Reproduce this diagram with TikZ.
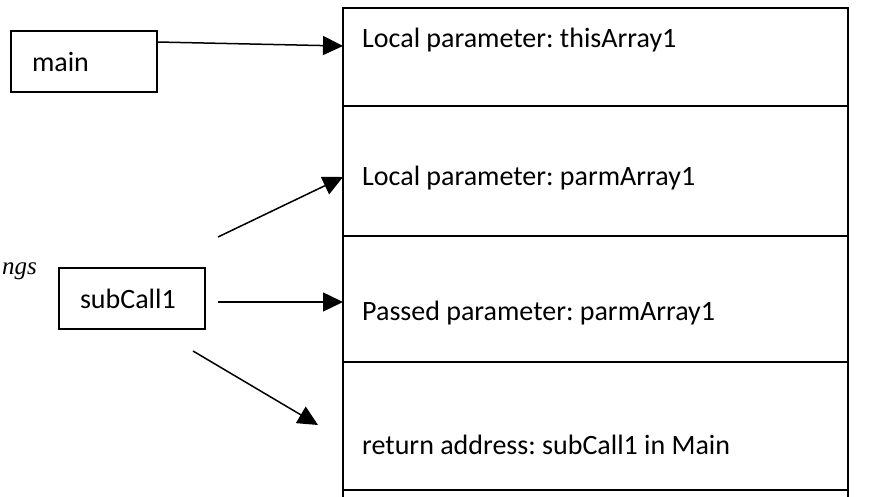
\documentclass[tikz,border=0pt]{standalone}
\usepackage{fontspec}
\setmainfont{Carlito}
\newfontfamily\serifit{Liberation Serif}
\usetikzlibrary{arrows.meta, positioning}
\frenchspacing

\begin{document}
\begin{tikzpicture}[
    x=1pt, y=-1pt,
    font=\fontsize{28}{32}\selectfont,
    callbox/.style={draw, line width=1.6pt, align=left, text width=104pt, inner xsep=21pt, inner ysep=0pt, minimum height=61pt},
    slot/.style={anchor=west, inner sep=0pt},
    arr/.style={-{Triangle[length=20pt, width=19pt]}, line width=1.5pt}
  ]
    \useasboundingbox (0,0) rectangle (879,497);
    % stack frame
    \draw[line width=1.9pt] (343,497) -- (343,8) -- (848,8) -- (848,497);
    \foreach \y in {106,236,362,490}
      \draw[line width=1.9pt] (343,\y) -- (848,\y);
    \node[slot] (this) at (362,40) {Local parameter: thisArray1};
    \node[slot] (lparm) at (362,178) {Local parameter: parmArray1};
    \node[slot] (pparm) at (362,313) {Passed parameter: parmArray1};
    \node[slot] (ret) at (362,445) {return address: subCall1 in Main};
    % callers
    \node[callbox] (main) at (84,61.5) {main};
    \node[callbox] (subcall) at (132,298.5) {subCall1};
    \node[anchor=east, inner sep=0pt, font=\serifit\itshape\fontsize{25}{29}\selectfont] (note) at (37,271) {ngs};
    % arrow ends
    \coordinate (m) at (157,42);
    \coordinate (in1) at (343,46);
    \coordinate (s2) at (218,237);
    \coordinate (in2) at (343,177);
    \coordinate (s3) at (218,302);
    \coordinate (in3) at (343,302);
    \coordinate (s4) at (193,351);
    \coordinate (e4) at (318,425);
    \draw[arr] (m) -- (in1);
    \draw[arr] (s2) -- (in2);
    \draw[arr] (s3) -- (in3);
    \draw[arr] (s4) -- (e4);
  \end{tikzpicture}
\end{document}
